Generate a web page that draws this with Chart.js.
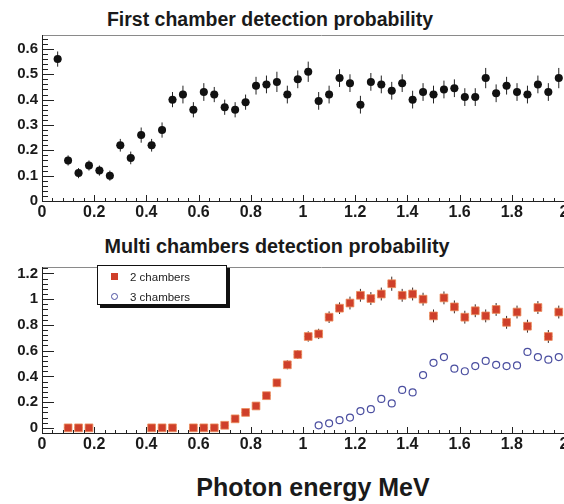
<!DOCTYPE html>
<html>
<head>
<meta charset="utf-8">
<script src="https://cdn.jsdelivr.net/npm/chart.js@4/dist/chart.umd.min.js"></script>
<style>
  html, body { margin: 0; padding: 0; background: #fff; overflow: hidden; width: 564px; height: 504px; }
  body { position: relative; font-family: "Liberation Sans", Arial, sans-serif; color: #1a1a1a; }
  .title { position: absolute; font-weight: bold; white-space: nowrap; transform: translate(-50%, -50%); }
  .wrap { position: absolute; left: 0; width: 600px; height: 220px; }
  #legend {
    position: absolute; left: 97px; top: 265px; width: 128px; height: 38px;
    background: #fff; border: 1px solid #111; box-shadow: 3px 3px 0 #111;
    font-size: 11.5px; color: #222;
  }
  #legend .row { position: absolute; left: 32px; height: 14px; line-height: 14px; }
  #legend .mk { position: absolute; left: -19px; top: 3px; width: 7px; height: 7px; box-sizing: border-box; }
  #legend .sq { background: #cf3f2a; }
  #legend .ci { border: 1.2px solid #4b4fa0; border-radius: 50%; }
</style>
</head>
<body>
<div class="title" style="left:270px; top:19px; font-size:19.5px;">First chamber detection probability</div>
<div class="wrap" style="top:0px;"><canvas id="top" width="600" height="220"></canvas></div>

<div class="title" style="left:277px; top:246px; font-size:19.8px;">Multi chambers detection probability</div>
<div class="wrap" style="top:232px;"><canvas id="bottom" width="600" height="220"></canvas></div>

<div id="legend">
  <div class="row" style="top:4px;"><span class="mk sq"></span>2 chambers</div>
  <div class="row" style="top:24px;"><span class="mk ci"></span>3 chambers</div>
</div>

<div class="title" style="left:313px; top:487px; font-size:25px;">Photon energy MeV</div>

<script>
// tick labels
const xTicks = [0, 0.2, 0.4, 0.6, 0.8, 1, 1.2, 1.4, 1.6, 1.8, 2];
const topYTicks = [0, 0.1, 0.2, 0.3, 0.4, 0.5, 0.6];
const bottomYTicks = [0, 0.2, 0.4, 0.6, 0.8, 1, 1.2];

// first chamber
const firstX = [0.06, 0.10, 0.14, 0.18, 0.22, 0.26, 0.30, 0.34, 0.38, 0.42, 0.46, 0.50, 0.54, 0.58, 0.62, 0.66,
  0.70, 0.74, 0.78, 0.82, 0.86, 0.90, 0.94, 0.98, 1.02, 1.06, 1.10, 1.14, 1.18, 1.22, 1.26, 1.30, 1.34, 1.38,
  1.42, 1.46, 1.50, 1.54, 1.58, 1.62, 1.66, 1.70, 1.74, 1.78, 1.82, 1.86, 1.90, 1.94, 1.98];
const firstY = [0.56, 0.16, 0.11, 0.14, 0.12, 0.10, 0.22, 0.17, 0.26, 0.22, 0.28, 0.40, 0.42, 0.36, 0.43, 0.42,
  0.37, 0.36, 0.39, 0.455, 0.46, 0.47, 0.42, 0.48, 0.51, 0.395, 0.42, 0.485, 0.465, 0.38, 0.47, 0.46, 0.435, 0.465,
  0.40, 0.43, 0.42, 0.44, 0.445, 0.41, 0.41, 0.485, 0.425, 0.455, 0.43, 0.42, 0.46, 0.43, 0.485];
const firstErr = [0.03, 0.02, 0.02, 0.02, 0.02, 0.02, 0.025, 0.025, 0.03, 0.025, 0.03, 0.03, 0.035, 0.03, 0.035, 0.03,
  0.03, 0.03, 0.03, 0.035, 0.035, 0.04, 0.035, 0.035, 0.04, 0.035, 0.035, 0.035, 0.035, 0.035, 0.035, 0.035, 0.035, 0.035,
  0.035, 0.035, 0.035, 0.035, 0.035, 0.035, 0.035, 0.04, 0.035, 0.035, 0.035, 0.035, 0.035, 0.035, 0.04];

// 2 chambers
const twoX = [0.10, 0.14, 0.18, 0.42, 0.46, 0.50, 0.58, 0.62, 0.66, 0.70, 0.74, 0.78, 0.82, 0.86, 0.90, 0.94,
  0.98, 1.02, 1.06, 1.10, 1.14, 1.18, 1.22, 1.26, 1.30, 1.34, 1.38, 1.42, 1.46, 1.50, 1.54, 1.58, 1.62, 1.66,
  1.70, 1.74, 1.78, 1.82, 1.86, 1.90, 1.94, 1.98];
const twoY = [0, 0, 0, 0, 0, 0, 0, 0, 0, 0.02, 0.07, 0.12, 0.17, 0.25, 0.35, 0.49,
  0.57, 0.71, 0.73, 0.86, 0.93, 0.97, 1.03, 1.005, 1.04, 1.12, 1.03, 1.04, 1.00, 0.87, 1.01, 0.94, 0.86, 0.91,
  0.87, 0.92, 0.82, 0.90, 0.79, 0.935, 0.71, 0.90];
const twoErr = [0, 0, 0, 0, 0, 0, 0, 0, 0, 0.01, 0.015, 0.02, 0.02, 0.025, 0.03, 0.035,
  0.035, 0.04, 0.04, 0.045, 0.045, 0.05, 0.05, 0.05, 0.05, 0.055, 0.05, 0.05, 0.05, 0.05, 0.05, 0.05, 0.05, 0.05,
  0.05, 0.05, 0.05, 0.05, 0.05, 0.05, 0.05, 0.05];

// 3 chambers
const threeX = [1.06, 1.10, 1.14, 1.18, 1.22, 1.26, 1.30, 1.34, 1.38, 1.42, 1.46, 1.50, 1.54, 1.58, 1.62, 1.66,
  1.70, 1.74, 1.78, 1.82, 1.86, 1.90, 1.94, 1.98];
const threeY = [0.02, 0.035, 0.06, 0.08, 0.13, 0.145, 0.225, 0.19, 0.295, 0.275, 0.41, 0.505, 0.55, 0.46, 0.44, 0.48,
  0.52, 0.49, 0.48, 0.485, 0.59, 0.55, 0.53, 0.55];

const binHalf = 0.015;

function pts(xs, ys, errs) {
  return xs.map((x, i) => ({ x: x, y: ys[i], e: errs ? errs[i] : 0 }));
}

// error bars, drawn under the markers
const errorBars = {
  id: "errorBars",
  beforeDatasetsDraw(chart) {
    const { ctx, scales } = chart;
    ctx.save();
    ctx.lineWidth = 1;
    chart.data.datasets.forEach((ds) => {
      if (!ds.errColor) return;
      ctx.strokeStyle = ds.errColor;
      ds.data.forEach((p) => {
        const px = scales.x.getPixelForValue(p.x);
        const py = scales.y.getPixelForValue(p.y);
        ctx.beginPath();
        if (p.e > 0) {
          ctx.moveTo(px, scales.y.getPixelForValue(p.y - p.e));
          ctx.lineTo(px, scales.y.getPixelForValue(p.y + p.e));
        }
        ctx.moveTo(scales.x.getPixelForValue(p.x - binHalf), py);
        ctx.lineTo(scales.x.getPixelForValue(p.x + binHalf), py);
        ctx.stroke();
      });
    });
    ctx.restore();
  },
};

// ROOT-like frame with ticks pointing inside
const frame = {
  id: "frame",
  afterDraw(chart) {
    const { ctx, chartArea: a, scales } = chart;
    const sx = scales.x, sy = scales.y;
    ctx.save();
    ctx.lineWidth = 1;
    ctx.strokeStyle = "#8a8a8a";
    ctx.beginPath();
    ctx.moveTo(a.left, a.top + 0.5);
    ctx.lineTo(a.right + 40, a.top + 0.5);
    ctx.stroke();

    ctx.strokeStyle = "#222";
    ctx.beginPath();
    ctx.moveTo(a.left + 0.5, a.top);
    ctx.lineTo(a.left + 0.5, a.bottom);
    ctx.moveTo(a.left, a.bottom + 0.5);
    ctx.lineTo(a.right + 40, a.bottom + 0.5);

    const xStep = 0.2 / 5;
    for (let k = 0; k * xStep <= sx.max + 1e-9; k++) {
      const px = Math.round(sx.getPixelForValue(k * xStep)) + 0.5;
      const len = k % 5 === 0 ? 6 : 3;
      ctx.moveTo(px, a.bottom);
      ctx.lineTo(px, a.bottom - len);
    }
    const yMajor = chart.options.yMajor;
    const yStep = yMajor / 5;
    for (let k = Math.ceil(sy.min / yStep - 1e-9); k * yStep <= sy.max + 1e-9; k++) {
      const py = Math.round(sy.getPixelForValue(k * yStep)) + 0.5;
      const len = k % 5 === 0 ? 12 : 6;
      ctx.moveTo(a.left, py);
      ctx.lineTo(a.left + len, py);
    }
    ctx.stroke();
    ctx.restore();
  },
};

const xFont = { family: "'Liberation Sans', Arial, sans-serif", size: 16, weight: "bold" };
const yFont = { family: "'Liberation Sans', Arial, sans-serif", size: 15, weight: "bold" };

function makeOptions(yMin, yMax, yTicks, yMajor) {
  return {
    responsive: false,
    animation: false,
    yMajor: yMajor,
    layout: { padding: { top: 35, right: 36, left: 0, bottom: 0 } },
    plugins: { legend: { display: false }, tooltip: { enabled: false }, title: { display: false } },
    scales: {
      x: {
        type: "linear",
        min: 0,
        max: 2,
        afterBuildTicks: (s) => { s.ticks = xTicks.map((v) => ({ value: v })); },
        afterFit: (s) => { s.height = 19; },
        grid: { display: false, drawTicks: false },
        border: { display: false },
        ticks: { color: "#1a1a1a", font: xFont, padding: 2, maxRotation: 0, autoSkip: false, callback: (v) => String(v) },
      },
      y: {
        type: "linear",
        min: yMin,
        max: yMax,
        afterBuildTicks: (s) => { s.ticks = yTicks.map((v) => ({ value: v })); },
        afterFit: (s) => { s.width = 42; },
        grid: { display: false, drawTicks: false },
        border: { display: false },
        ticks: { color: "#1a1a1a", font: yFont, padding: 4, autoSkip: false, callback: (v) => String(v) },
      },
    },
  };
}

new Chart(document.getElementById("top"), {
  type: "scatter",
  data: {
    datasets: [
      {
        data: pts(firstX, firstY, firstErr),
        pointStyle: "circle",
        pointRadius: 4,
        backgroundColor: "#111",
        borderColor: "#111",
        borderWidth: 0,
        errColor: "#222",
      },
    ],
  },
  options: makeOptions(0, 0.655, topYTicks, 0.1),
  plugins: [errorBars, frame],
});

new Chart(document.getElementById("bottom"), {
  type: "scatter",
  data: {
    datasets: [
      {
        data: pts(threeX, threeY),
        pointStyle: "circle",
        pointRadius: 3.5,
        backgroundColor: "rgba(255,255,255,0)",
        borderColor: "#4b4fa0",
        borderWidth: 1.2,
      },
      {
        data: pts(twoX, twoY, twoErr),
        pointStyle: "rect",
        pointRadius: 5.5,
        backgroundColor: "#cf3f2a",
        borderColor: "rgba(236,140,90,0.8)",
        borderWidth: 1,
        errColor: "#3a2a26",
      },
    ],
  },
  options: makeOptions(-0.04, 1.25, bottomYTicks, 0.2),
  plugins: [errorBars, frame],
});
</script>
</body>
</html>
